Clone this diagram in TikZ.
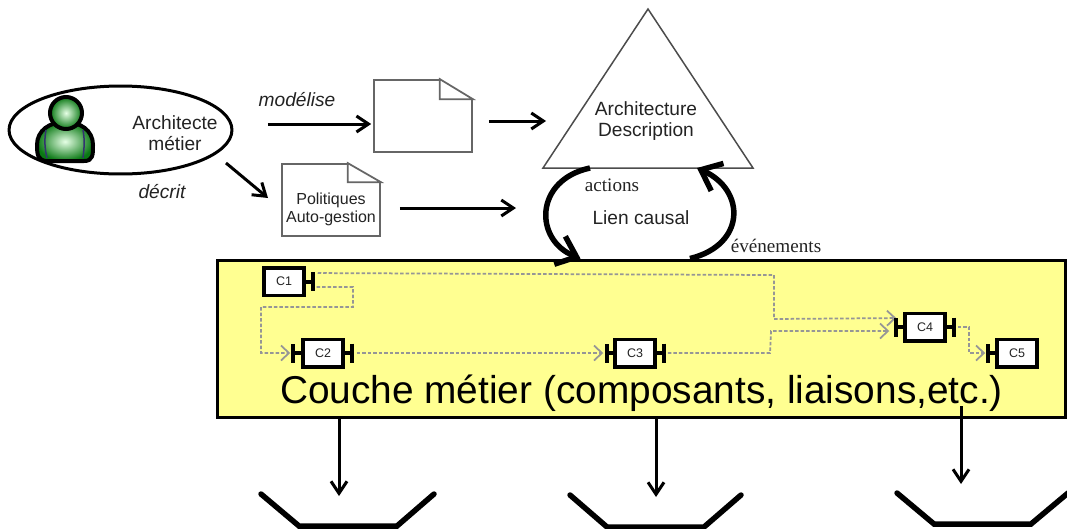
\documentclass[tikz,border=0pt]{standalone}
\usepackage{fontspec}
\usepackage{tikz}
\usetikzlibrary{arrows.meta,shapes.geometric}
\setmainfont{Liberation Sans}
\newfontfamily\serifface{Liberation Serif}
\definecolor{metieryellow}{RGB}{255,255,145}
\definecolor{wiregray}{RGB}{150,150,150}
\definecolor{persongreen}{RGB}{10,120,20}
\definecolor{textgray}{RGB}{35,35,35}
\begin{document}
\begin{tikzpicture}[x=0.02cm,y=-0.02cm,
    >={Straight Barb[length=0.24cm,width=0.32cm]},
    label/.style={font=\fontsize{10.9}{11.6}\selectfont,text=textgray,align=center,inner sep=0},
    serifname/.style={font=\fontsize{10.9}{11.6}\serifface,text=textgray,inner sep=0},
    docbox/.style={draw=black!60,line width=0.035cm,fill=white,inner sep=0},
    fold/.style={draw=black!60,line width=0.035cm,fill=white},
    arrowline/.style={->,line width=0.06cm},
    causal/.style={->,line width=0.11cm,>={Straight Barb[length=0.36cm,width=0.6cm]}},
    compbox/.style={draw,line width=0.07cm,fill=white,minimum width=0.8cm,minimum height=0.55cm,inner sep=0,font=\fontsize{7.1}{8}\selectfont,text=textgray},
    portline/.style={-{Bar[width=0.38cm]},line width=0.08cm},
    wire/.style={->,draw=wiregray,line width=0.035cm,dash pattern=on 0.07cm off 0.04cm,>={Straight Barb[length=0.16cm,width=0.3cm]}},
    person/.style={line width=0.08cm,draw=black,inner color=green!10!white,outer color=persongreen},
    bracket/.style={line width=0.11cm,line cap=round}]
  \useasboundingbox (0,0) rectangle (1067,528);
  \coordinate (apex) at (648,9);
  \coordinate (baseleft) at (543,168);
  \coordinate (baseright) at (753,168);
  \coordinate (actionsout) at (590,168);
  \coordinate (eventsin) at (697,168);
  \coordinate (descin) at (546,121);
  \coordinate (polin) at (516,208);
  \coordinate (decritout) at (226,163);
  \coordinate (decritin) at (268,198);
  \coordinate (tipa) at (339,496);
  \coordinate (tipb) at (656,497);
  \coordinate (tipc) at (961,484);

  \node[draw,ellipse,line width=0.06cm,minimum width=4.46cm,minimum height=1.76cm,inner sep=0] (archi) at (120.5,130) {};
  \shadedraw[person] (46,161) .. controls (38,160) and (37,155) .. (37,145) .. controls (37,130) and (50,122) .. (65,122) .. controls (80,122) and (93,130) .. (93,145) .. controls (93,155) and (93,161) .. (84,161) -- cycle;
  \draw[black!60!blue!60!gray,line width=0.03cm] (46,130) .. controls (44,140) and (45,150) .. (47,158);
  \draw[black!60!blue!60!gray,line width=0.03cm] (83,130) .. controls (85,140) and (84,150) .. (83,158);
  \shadedraw[person] (66,113) circle (16);
  \node[label] (archilabel) at (175,133) {Architecte\\m\'etier};
  \node[label,font=\fontsize{10.9}{11.6}\itshape] (modelise) at (297,100) {mod\'elise};
  \node[label,font=\fontsize{10.9}{11.6}\itshape] (decrit) at (162,192) {d\'ecrit};

  \node[docbox,minimum width=1.96cm,minimum height=1.44cm] (doca) at (423,116) {};
  \fill[white] (doca.north east) -- ++(-33,0) -- ++(33,20) -- cycle;
  \draw[fold] (doca.north east) ++(-33,0) -- ++(33,20) -- ++(-33,0) -- cycle;
  \node[docbox,minimum width=1.96cm,minimum height=1.44cm] (docb) at (331,200) {};
  \fill[white] (docb.north east) -- ++(-33,0) -- ++(33,19) -- cycle;
  \draw[fold] (docb.north east) ++(-33,0) -- ++(33,19) -- ++(-33,0) -- cycle;
  \node[label,font=\fontsize{9.1}{10.4}\selectfont] (pollabel) at (331,209) {Politiques\\Auto-gestion};

  \draw[black!70,line width=0.03cm] (apex) -- (baseright) -- (baseleft) -- cycle;
  \node[label] (desc) at (646,121) {Architecture\\Description};
  \node[label] (lien) at (641,218) {Lien causal};
  \node[serifname] (actions) at (612,185) {actions};
  \node[serifname] (events) at (776,246) {\'ev\'enements};

  \node[draw,line width=0.06cm,fill=metieryellow,minimum width=16.98cm,minimum height=3.16cm,inner sep=0] (metier) at (641.5,339) {};
  \node[inner sep=0,font=\fontsize{22.1}{24}\selectfont,text=black] (metierlabel) at (641.5,393) {Couche m\'etier (composants, liaisons,etc.)};

  \draw[causal] (actionsout) .. controls (534,180) and (534,240) .. ([xshift=-1.22cm]metier.north);
  \draw[causal] ([xshift=0.97cm]metier.north) .. controls (746,245) and (746,190) .. (eventsin);

  \draw[arrowline,shorten <=0.69cm,shorten >=0.04cm] (archi.east |- 0,124) -- (doca.west |- 0,124);
  \draw[arrowline,shorten <=0.32cm] (doca.east |- descin) -- (descin);
  \draw[arrowline] (decritout) -- (decritin);
  \draw[arrowline,shorten <=0.38cm] (docb.east |- polin) -- (polin);

  \node[compbox] (c1) at (284,281.5) {C1};
  \node[compbox] (c2) at (323,353) {C2};
  \node[compbox] (c3) at (635,353) {C3};
  \node[compbox] (c4) at (925,327) {C4};
  \node[compbox] (c5) at (1017,353) {C5};

  \draw[wire,shorten <=0.24cm,shorten >=0.14cm] ([yshift=0.17cm]c1.east) -- (774,275) -- (774,319) -- ([yshift=0.18cm]c4.west);
  \draw[wire,shorten <=0.22cm,shorten >=0.22cm] ([yshift=-0.11cm]c1.east) -- (353,287) -- (353,307) -- (261,307) -- (261,353) -- (c2.west);
  \draw[wire,shorten <=0.24cm,shorten >=0.2cm] (c2.east) -- (c3.west);
  \draw[wire,shorten <=0.22cm,shorten >=0.28cm] (c3.east) -- (770,353) -- (771,331) -- ([yshift=-0.08cm]c4.west);
  \draw[wire,shorten <=0.22cm,shorten >=0.2cm] (c4.east) -- (969,327) -- (969,353) -- (c5.west);

  \draw[portline] (c1.east) -- ++(9,0);
  \draw[portline] (c2.west) -- ++(-10,0);
  \draw[portline] (c2.east) -- ++(9,0);
  \draw[portline] (c3.west) -- ++(-8,0);
  \draw[portline] (c3.east) -- ++(9,0);
  \draw[portline] (c4.west) -- ++(-9,0);
  \draw[portline] (c4.east) -- ++(9,0);
  \draw[portline] (c5.west) -- ++(-9,0);

  \draw[arrowline] (metier.south -| tipa) -- (tipa);
  \draw[arrowline] (metier.south -| tipb) -- (tipb);
  \draw[arrowline] ([yshift=0.26cm]metier.south -| tipc) -- (tipc);

  \draw[bracket] (261,494) -- (299,526) -- (397,526) -- (434,494);
  \draw[bracket] (570,495) -- (607,527) -- (704,527) -- (741,495);
  \draw[bracket] (897,493) -- (934,524) -- (1031,524) -- (1068,493);
\end{tikzpicture}
\end{document}
